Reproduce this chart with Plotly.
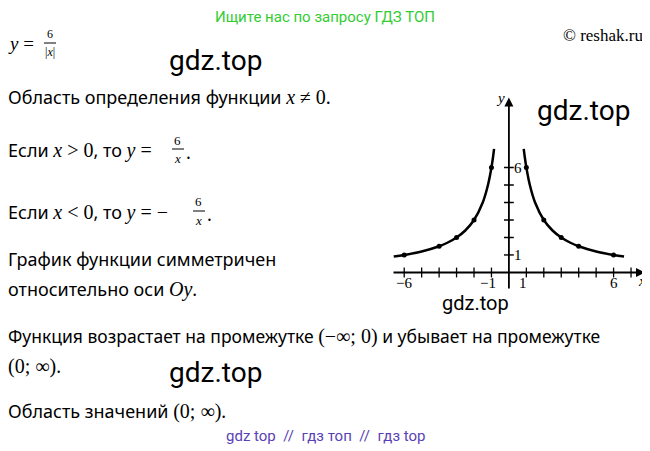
import plotly.graph_objects as go

pos_x = [1, 2, 3, 4, 6]
pos_y = [6, 3, 2, 1.5, 1]
neg_x = [-6, -4, -3, -2, -1]
neg_y = [1, 1.5, 2, 3, 6]
curve_r_x = [0.85, 0.9, 1, 1.2, 1.5, 2, 2.5, 3, 3.5, 4, 5, 6, 6.6]
curve_r_y = [6 / v for v in curve_r_x]
curve_l_x = [-v for v in curve_r_x]
curve_l_y = curve_r_y
tick_vals = [-6, -5, -4, -3, -2, -1, 1, 2, 3, 4, 5, 6, 7]
ytick_vals = [1, 2, 3, 4, 5, 6]

OFF = 8  # page body margin
W, H = 650 - OFF, 451 - OFF
def px(x):
    return (x - OFF) / W
def py(y):
    return 1 - (y - OFF) / H

fig = go.Figure()
for cx, cy in [(curve_r_x, curve_r_y), (curve_l_x, curve_l_y)]:
    fig.add_trace(go.Scatter(x=cx, y=cy, mode="lines", line=dict(color="black", width=2.5, shape="spline")))
fig.add_trace(go.Scatter(x=pos_x + neg_x, y=pos_y + neg_y, mode="markers", marker=dict(color="black", size=5)))
fig.add_trace(go.Scatter(x=tick_vals, y=[0] * len(tick_vals), mode="markers",
                         marker=dict(symbol="line-ns", size=7, line=dict(color="black", width=1.3))))
fig.add_trace(go.Scatter(x=[0] * len(ytick_vals), y=ytick_vals, mode="markers",
                         marker=dict(symbol="line-ew", size=7, line=dict(color="black", width=1.3))))

fig.update_xaxes(range=[-6.7, 7.8], domain=[px(392), px(645)], visible=False)
fig.update_yaxes(range=[-1, 10], domain=[py(290), py(97.5)], visible=False)

fig.add_annotation(x=7.8, y=0, ax=-6.7, ay=0, xref="x", yref="y", axref="x", ayref="y",
                   showarrow=True, arrowhead=2, arrowsize=1, arrowwidth=1.8, arrowcolor="black", text="")
fig.add_annotation(x=0, y=10, ax=0, ay=-1, xref="x", yref="y", axref="x", ayref="y",
                   showarrow=True, arrowhead=2, arrowsize=1, arrowwidth=1.8, arrowcolor="black", text="")

serif = "Liberation Serif"
def lab(x, y, t, size=15, anchor="center", italic=False):
    fig.add_annotation(x=x, y=y, xref="x", yref="y", text=f"<i>{t}</i>" if italic else t, showarrow=False,
                       font=dict(family=serif, size=size, color="black"), xanchor=anchor)
lab(-6, -0.6, "−6")
lab(-1.2, -0.6, "−1")
lab(0.8, -0.6, "1")
lab(6, -0.6, "6")
lab(7.6, -0.5, "x", italic=True)
lab(0.15, 1, "1", anchor="left")
lab(0.15, 6, "6", anchor="left")
lab(-0.5, 10, "y", italic=True)

def txt(x, y, t, size=18, color="black", family="Noto Sans", anchor="left"):
    fig.add_annotation(x=px(x), y=py(y), xref="paper", yref="paper", text=t, showarrow=False,
                       font=dict(family=family, size=size, color=color), xanchor=anchor, yanchor="middle")

M = "font-family:Liberation Serif;font-size:20px"
def m(s):
    return f"<span style='{M}'><i>{s}</i></span>"
def s(t):
    return f"<span style='{M}'>{t}</span>"
def frac(x, ytop, num, den, size=13):
    txt(x, ytop, num, size=size, family=serif, anchor="center")
    txt(x, ytop + 18, den, size=size, family=serif, anchor="center")
    fig.add_shape(type="line", xref="paper", yref="paper", x0=px(x - 6), x1=px(x + 6),
                  y0=py(ytop + 9), y1=py(ytop + 9), line=dict(color="black", width=1))

L = 6  # left text start (page px)
txt(325, 17, "Ищите нас по запросу ГДЗ ТОП", size=15, color="#33cc33", family="Roboto", anchor="center")
txt(L, 43, "<i>y</i> =", size=19, family=serif)
frac(L + 44, 34, "6", "|<i>x</i>|", size=12)
txt(645, 36, "© reshak.ru", size=17, family=serif, anchor="right")
txt(215, 60, "gdz.top", size=28, family="Roboto", anchor="center")
txt(L, 97, "Область определения функции " + m("x") + " " + s("≠ 0."))
txt(L, 150, "Если " + m("x") + s(" > 0") + ", то " + m("y") + s(" ="))
frac(L + 172, 140, "6", "<i>x</i>")
txt(L + 178, 152, ".")
txt(L, 212, "Если " + m("x") + s(" < 0") + ", то " + m("y") + s(" = −"))
frac(L + 193, 202, "6", "<i>x</i>")
txt(L + 199, 214, ".")
txt(L, 259, "График функции симметричен")
txt(L, 289, "относительно оси " + m("Oy") + ".")
txt(L, 336, "Функция возрастает на промежутке " + s("(−∞; 0)") + " и убывает на промежутке", size=17.5)
txt(L, 366, s("(0; ∞)") + ".")
txt(215, 372, "gdz.top", size=28, family="Roboto", anchor="center")
txt(L, 411, "Область значений " + s("(0; ∞)") + ".")
txt(325, 436, "gdz top  //  гдз топ  //  гдз top", size=15, color="#5a3fb5", family="Roboto", anchor="center")
txt(583, 111, "gdz.top", size=28, family="Roboto", anchor="center")
txt(475, 303, "gdz.top", size=20, family="Roboto", anchor="center")

fig.update_layout(width=W, height=H, margin=dict(l=0, r=0, t=0, b=0), showlegend=False,
                  paper_bgcolor="white", plot_bgcolor="white")
fig.write_html("out.html")
